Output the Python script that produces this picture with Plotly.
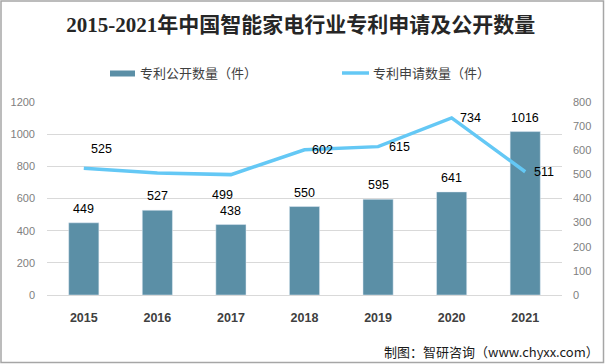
import plotly.graph_objects as go

# ---- data ----
years = ["2015", "2016", "2017", "2018", "2019", "2020", "2021"]
published = [449, 527, 438, 550, 595, 641, 1016]          # 专利公开数量（件）
applied = [525, 506, 499, 602, 615, 734, 511]             # 专利申请数量（件）
applied_labels = ["525", "", "499", "602", "615", "734", "511"]
bar_name = "专利公开数量（件）"
line_name = "专利申请数量（件）"
title_text = "2015-2021年中国智能家电行业专利申请及公开数量"
source_text = "制图：智研咨询（www.chyxx.com）"

# ---- layout geometry (pixels) ----
W, H = 605, 364
L, R, T, B = 47, 562, 102, 295


def px(x):
    return (x - L) / (R - L)


def py(y):
    return (B - y) / (B - T)


BAR_COLOR = "#5B8FA6"
LINE_COLOR = "#64C8F5"
CJK = "Noto Sans CJK SC"
NUM = "Liberation Sans"

fig = go.Figure()
fig.add_trace(go.Bar(x=years, y=published, name=bar_name, marker_color=BAR_COLOR,
                     showlegend=False, yaxis="y"))
fig.add_trace(go.Scatter(x=years, y=applied, name=line_name, mode="lines",
                         line=dict(color=LINE_COLOR, width=3.5), showlegend=False,
                         yaxis="y2"))

annotations = []
# bar value labels (x given as category index)
for i, v in enumerate(published):
    annotations.append(dict(x=i, y=v, xref="x", yref="y", text=str(v), showarrow=False,
                            yanchor="middle", yshift=14,
                            font=dict(family=NUM, size=12.5, color="#000000")))
# line value labels (offsets in px)
line_shift = [(18, 19), (0, 0), (-8, -20), (18, 0), (21, 0), (19, 0), (19, 0)]
for i, (v, t, (dx, dy)) in enumerate(zip(applied, applied_labels, line_shift)):
    if not t:
        continue
    annotations.append(dict(x=i, y=v, xref="x", yref="y2", text=t, showarrow=False,
                            xshift=dx, yshift=dy, yanchor="middle",
                            font=dict(family=NUM, size=12.5, color="#000000")))
# legend texts
annotations.append(dict(x=px(138), y=py(73), xref="paper", yref="paper", text=bar_name,
                        showarrow=False, xanchor="left", yanchor="middle",
                        font=dict(family=CJK, size=13, color="#404040")))
annotations.append(dict(x=px(371), y=py(73), xref="paper", yref="paper", text=line_name,
                        showarrow=False, xanchor="left", yanchor="middle",
                        font=dict(family=CJK, size=13, color="#404040")))
# source
annotations.append(dict(x=px(601), y=py(351), xref="paper", yref="paper", text=source_text,
                        showarrow=False, xanchor="right", yanchor="middle",
                        font=dict(family=CJK, size=13, color="#1a1a1a")))

shapes = [
    dict(type="rect", xref="paper", yref="paper", x0=px(110), x1=px(135), y0=py(76.5), y1=py(70.5),
         fillcolor=BAR_COLOR, line=dict(width=0)),
    dict(type="line", xref="paper", yref="paper", x0=px(342), x1=px(369), y0=py(73), y1=py(73),
         line=dict(color=LINE_COLOR, width=3.5)),
    dict(type="rect", xref="paper", yref="paper", x0=px(1), x1=px(603.5), y0=py(1), y1=py(362.5),
         line=dict(color="#a6a6a6", width=1.5), fillcolor="rgba(0,0,0,0)", layer="below"),
]

fig.update_layout(
    width=W, height=H,
    margin=dict(l=L, r=W - R, t=T, b=H - B, pad=0),
    paper_bgcolor="white", plot_bgcolor="white",
    bargap=0.59,
    title=dict(text=title_text, x=0.497, xanchor="center", y=1 - 25 / H, yanchor="middle",
               yref="container",
               font=dict(family="Liberation Serif, " + CJK, size=21, color="#262626",
                         weight="bold")),
    xaxis=dict(type="category", range=[-0.5, len(years) - 0.5], autorange=False,
               showgrid=False, showline=False, zeroline=False,
               ticks="", ticklabelstandoff=13,
               tickfont=dict(family=NUM, size=12.5, color="#404040", weight="bold")),
    yaxis=dict(range=[0, 1200], dtick=200, showgrid=True, gridcolor="#d9d9d9", gridwidth=1,
               zeroline=True, zerolinecolor="#d9d9d9", zerolinewidth=1, showline=False,
               ticks="", ticklabelstandoff=11,
               tickfont=dict(family=NUM, size=11, color="#808080")),
    yaxis2=dict(range=[0, 800], dtick=100, overlaying="y", side="right", showgrid=False,
                zeroline=False, showline=False, ticks="", ticklabelstandoff=10,
                tickfont=dict(family=NUM, size=11, color="#808080")),
    annotations=annotations,
    shapes=shapes,
)

fig.write_html("out.html", config={"displayModeBar": False},
               post_script="document.body.style.margin='0';document.body.style.overflow='hidden';")
